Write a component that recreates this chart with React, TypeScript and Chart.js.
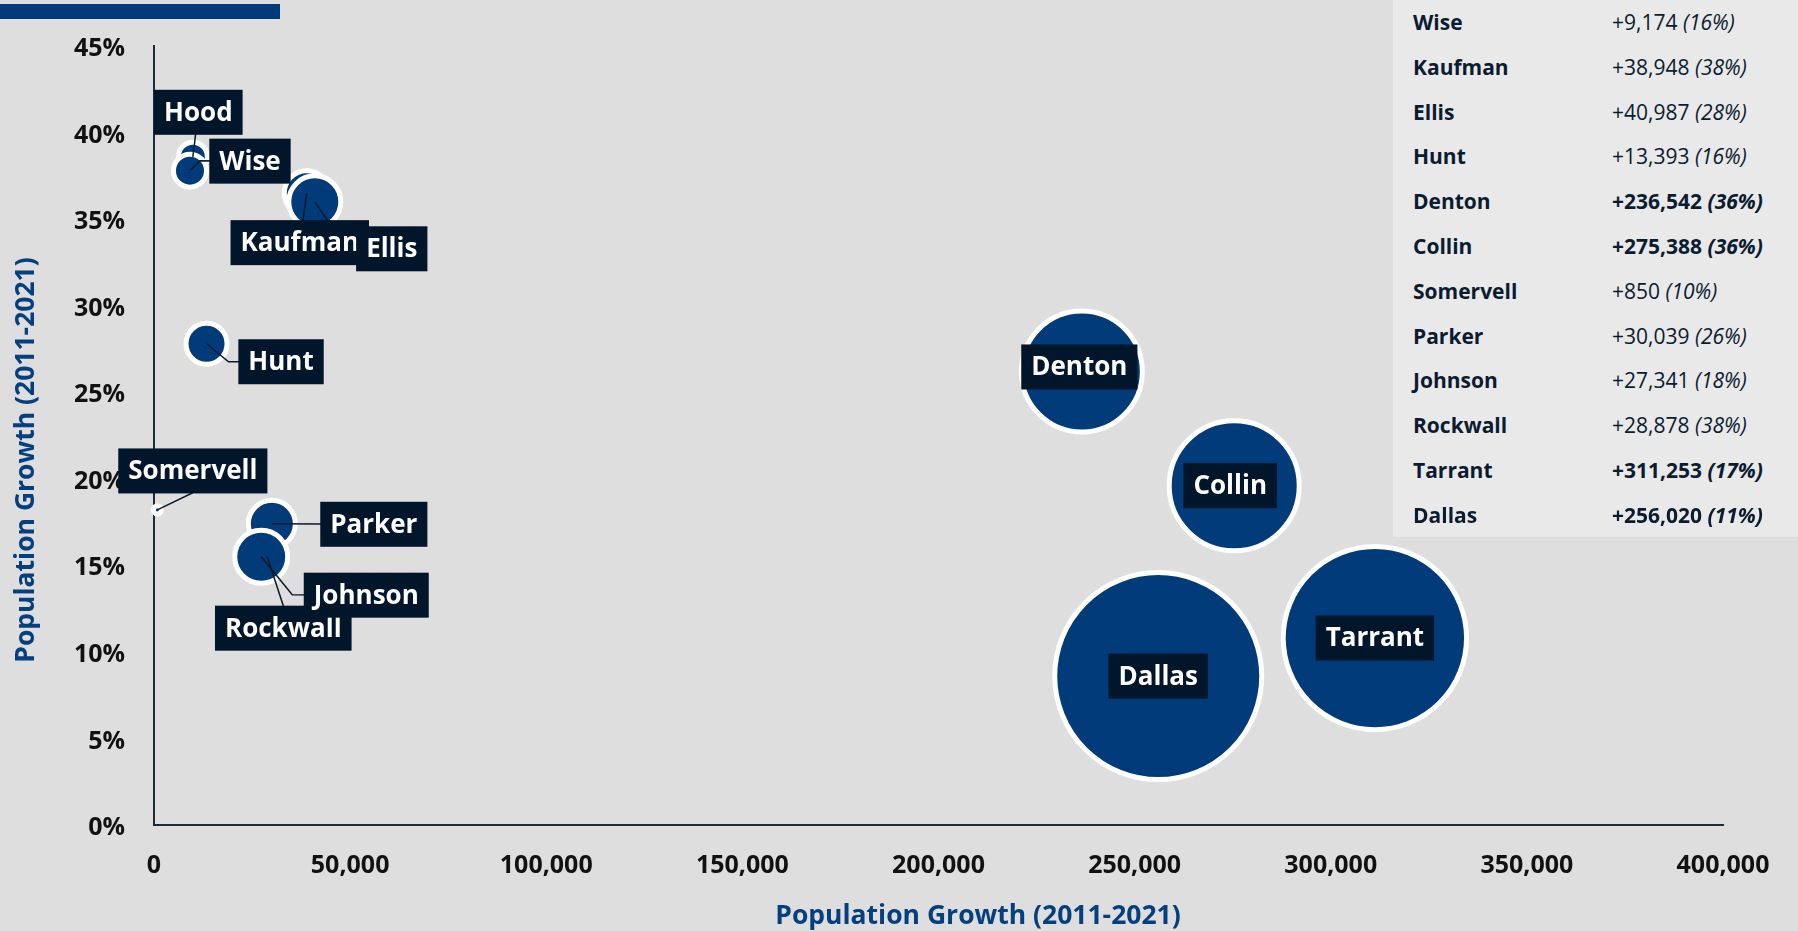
import React, { useEffect, useRef } from "react";
import { Chart, registerables, BubbleController } from "chart.js";

Chart.register(...registerables);
// keep the chart area fixed: do not let bubble radii enlarge the layout padding
(BubbleController.prototype as any).getMaxOverflow = function () {
  return false;
};

// ---------- DATA ----------
const counties = ["Hood", "Wise", "Kaufman", "Ellis", "Hunt", "Denton", "Collin", "Somervell", "Parker", "Rockwall", "Johnson", "Tarrant", "Dallas"];
const growthAbs = [9900, 9174, 38948, 40987, 13393, 236542, 275388, 850, 30039, 28878, 27341, 311253, 256020];
const growthPct = [38.6, 37.8, 36.5, 36.0, 27.8, 26.2, 19.6, 18.2, 17.4, 15.5, 15.5, 10.8, 8.6];
const population = [67000, 84000, 145000, 189000, 123000, 922000, 1059000, 9800, 157000, 112000, 195000, 2060000, 2611000];

const xTickValues = [0, 50000, 100000, 150000, 200000, 250000, 300000, 350000, 400000];
const yTickValues = [0, 5, 10, 15, 20, 25, 30, 35, 40, 45];

const xTitle = "Population Growth (2011-2021)";
const yTitle = "Population Growth (2011-2021)";

const tableNames = ["Wise", "Kaufman", "Ellis", "Hunt", "Denton", "Collin", "Somervell", "Parker", "Johnson", "Rockwall", "Tarrant", "Dallas"];
const tableAbs = ["+9,174", "+38,948", "+40,987", "+13,393", "+236,542", "+275,388", "+850", "+30,039", "+27,341", "+28,878", "+311,253", "+256,020"];
const tablePct = ["(16%)", "(38%)", "(28%)", "(16%)", "(36%)", "(36%)", "(10%)", "(26%)", "(18%)", "(38%)", "(17%)", "(11%)"];
const tableBold = [false, false, false, false, true, true, false, false, false, false, true, true];

// ---------- STYLE / LAYOUT CONFIG ----------
const NAVY = "#023b7a";
const LABEL_BG = "#01152b";
const AXIS_COLOR = "#1c2b3c";
const TITLE_COLOR = "#063f7e";
const BUBBLE_K = 0.0656;
const BUBBLE_BORDER = 5;

const labelLayout: Record<string, { dx: number; dy: number; elbow?: [number, number] }> = {
  Hood: { dx: 5.5, dy: -44.5 },
  Wise: { dx: 60, dy: -9.5, elbow: [10, -10] },
  Kaufman: { dx: -7, dy: 49.5 },
  Ellis: { dx: 77, dy: 47, elbow: [12.5, 18.5] },
  Hunt: { dx: 74.5, dy: 18, elbow: [22, 18] },
  Somervell: { dx: 35.5, dy: -39, elbow: [35, -17] },
  Parker: { dx: 102, dy: 0.5 },
  Johnson: { dx: 105, dy: 38.5, elbow: [31, 38] },
  Rockwall: { dx: 16, dy: 71.5, elbow: [16, 49] },
  Denton: { dx: -2.5, dy: -4.5 },
  Collin: { dx: -4, dy: 0 },
  Tarrant: { dx: 0, dy: 0 },
  Dallas: { dx: 0, dy: 0 },
};
const labelDrawOrder = ["Hood", "Wise", "Kaufman", "Ellis", "Hunt", "Somervell", "Parker", "Rockwall", "Johnson", "Denton", "Collin", "Tarrant", "Dallas"];

const labelPlugin = {
  id: "bubbleLabels",
  afterDatasetsDraw(chart: any) {
    const meta = chart.getDatasetMeta(0);
    const ctx = chart.ctx as CanvasRenderingContext2D;
    ctx.save();
    ctx.strokeStyle = "#0b1a2b";
    ctx.lineWidth = 1.5;
    counties.forEach((name, i) => {
      const el = meta.data[i];
      const p = labelLayout[name];
      ctx.beginPath();
      ctx.moveTo(el.x, el.y);
      if (p.elbow) ctx.lineTo(el.x + p.elbow[0], el.y + p.elbow[1]);
      ctx.lineTo(el.x + p.dx, el.y + p.dy);
      ctx.stroke();
    });
    ctx.font = 'bold 26px "Open Sans"';
    ctx.textAlign = "center";
    ctx.textBaseline = "middle";
    labelDrawOrder.forEach((name) => {
      const i = counties.indexOf(name);
      const el = meta.data[i];
      const p = labelLayout[name];
      const cx = el.x + p.dx;
      const cy = el.y + p.dy;
      const w = ctx.measureText(name).width + 20;
      const h = 45;
      ctx.fillStyle = LABEL_BG;
      ctx.fillRect(cx - w / 2, cy - h / 2, w, h);
      ctx.fillStyle = "#ffffff";
      ctx.fillText(name, cx, cy + 1);
    });
    ctx.restore();
  },
};

const axisTitlePlugin = {
  id: "axisTitles",
  afterDraw(chart: any) {
    const ctx = chart.ctx as CanvasRenderingContext2D;
    ctx.save();
    ctx.fillStyle = TITLE_COLOR;
    ctx.font = 'bold 26.5px "Open Sans"';
    ctx.textAlign = "center";
    ctx.textBaseline = "middle";
    ctx.fillText(xTitle, 978, 916);
    ctx.translate(26, 460);
    ctx.rotate(-Math.PI / 2);
    ctx.fillText(yTitle, 0, 0);
    ctx.restore();
  },
};

const tickFont = { family: '"Open Sans"', weight: "bold" as const, size: 25 };

export default function App() {
  const ref = useRef<HTMLCanvasElement>(null);

  useEffect(() => {
    document.body.style.margin = "0";
    document.body.style.background = "#dedede";
    let chart: Chart | null = null;
    let cancelled = false;
    const make = () => {
      if (cancelled || !ref.current) return;
      chart = new Chart(ref.current, {
        type: "bubble",
        data: {
          datasets: [
            {
              data: counties.map((_, i) => ({
                x: growthAbs[i],
                y: growthPct[i],
                r: Math.sqrt(population[i]) * BUBBLE_K - BUBBLE_BORDER / 2,
              })),
              backgroundColor: NAVY,
              borderColor: "#ffffff",
              borderWidth: BUBBLE_BORDER,
              clip: false as any,
            },
          ],
        },
        options: {
          responsive: false,
          maintainAspectRatio: false,
          animation: false,
          events: [],
          layout: { padding: { top: 46, right: 75, left: 0, bottom: 0 } },
          plugins: {
            legend: { display: false },
            tooltip: { enabled: false },
            title: { display: false },
          },
          scales: {
            x: {
              type: "linear",
              min: 0,
              max: 400000,
              afterBuildTicks: (s: any) => {
                s.ticks = xTickValues.map((v) => ({ value: v }));
              },
              afterFit: (s: any) => {
                s.height = 106;
              },
              grid: { display: false, drawTicks: false },
              border: { display: true, color: AXIS_COLOR, width: 2 },
              ticks: {
                padding: 26,
                color: "#111111",
                font: tickFont,
                maxRotation: 0,
                autoSkip: false,
                callback: (v: any) => Number(v).toLocaleString("en-US"),
              },
            },
            y: {
              type: "linear",
              min: 0,
              max: 45,
              afterBuildTicks: (s: any) => {
                s.ticks = yTickValues.map((v) => ({ value: v }));
              },
              afterFit: (s: any) => {
                s.width = 154;
              },
              grid: { display: false, drawTicks: false },
              border: { display: true, color: AXIS_COLOR, width: 2 },
              ticks: {
                padding: 29,
                labelOffset: 3,
                color: "#111111",
                font: tickFont,
                callback: (v: any) => `${v}%`,
              },
            },
          },
        },
        plugins: [labelPlugin, axisTitlePlugin],
      } as any);
    };
    const fontsReady = (document as any).fonts
      ? Promise.all([
          (document as any).fonts.load('700 26px "Open Sans"'),
          (document as any).fonts.load('400 21px "Open Sans"'),
          (document as any).fonts.load('italic 400 21px "Open Sans"'),
        ])
      : Promise.resolve();
    fontsReady.then(make, make);
    return () => {
      cancelled = true;
      if (chart) chart.destroy();
    };
  }, []);

  return (
    <div style={{ position: "fixed", left: 0, top: 0, width: 1798, height: 931, background: "#dedede", overflow: "hidden" }}>
      <canvas ref={ref} width={1798} height={931} style={{ position: "absolute", left: 0, top: 0, width: 1798, height: 931 }} />
      <div style={{ position: "absolute", left: 0, top: 4, width: 280, height: 15, background: NAVY }} />
      <div
        style={{
          position: "absolute",
          left: 1393,
          top: 0,
          width: 405,
          height: 537,
          background: "#e9e9e9",
          fontFamily: '"Open Sans", sans-serif',
          fontSize: 21,
          color: "#0b1c30",
        }}
      >
        {tableNames.map((n, i) => (
          <div key={n} style={{ position: "relative", height: 44.8, lineHeight: "44.8px", whiteSpace: "nowrap" }}>
            <span style={{ position: "absolute", left: 20, fontWeight: 700 }}>{n}</span>
            <span style={{ position: "absolute", left: 219, fontWeight: tableBold[i] ? 700 : 400 }}>
              {tableAbs[i]} <i>{tablePct[i]}</i>
            </span>
          </div>
        ))}
      </div>
    </div>
  );
}
